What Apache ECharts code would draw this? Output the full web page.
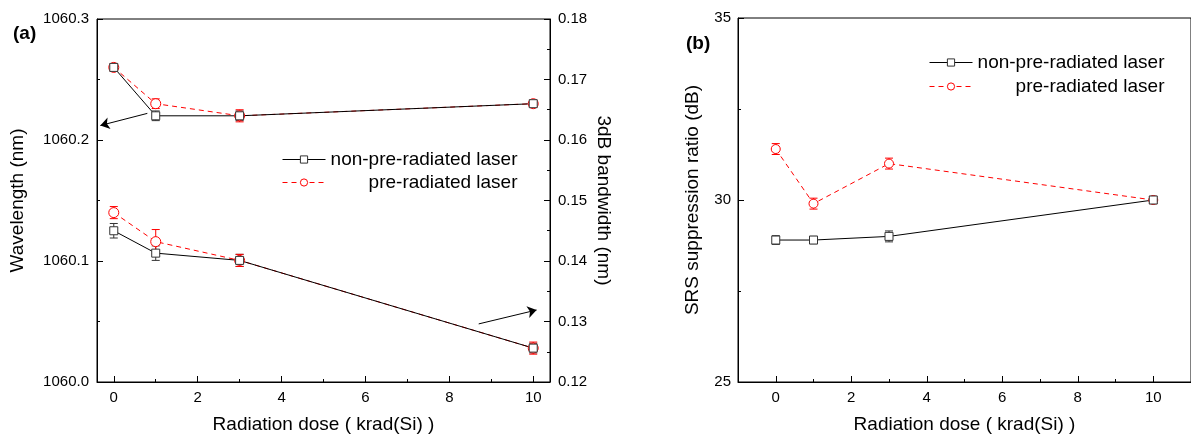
<!DOCTYPE html>
<html>
<head>
<meta charset="utf-8">
<script src="https://cdn.jsdelivr.net/npm/echarts@6/dist/echarts.min.js"></script>
<style>
  html, body { margin: 0; padding: 0; background: #fff; }
  #chart { width: 1191px; height: 439px; }
</style>
</head>
<body>
<div id="chart"></div>
<script>
  // radiation dose (krad(Si))
  var doses = [0, 1, 3, 10];
  var xMajorTicks = [0, 2, 4, 6, 8, 10];
  var xMinorTicks = [1, 3, 5, 7, 9];

  // panel (a): centre wavelength, left axis (nm)
  var wlNon = [1060.26, 1060.22, 1060.22, 1060.23];
  var wlNonErr = [0.003, 0.004, 0.004, 0.002];
  var wlPre = [1060.26, 1060.23, 1060.22, 1060.23];
  var wlPreErr = [0.003, 0.004, 0.005, 0.003];

  // panel (a): 3dB bandwidth, right axis (nm)
  var bwNon = [0.1450, 0.1413, 0.1401, 0.1256];
  var bwNonErr = [0.0012, 0.0012, 0.0010, 0.0008];
  var bwPre = [0.1480, 0.1432, 0.1401, 0.1256];
  var bwPreErr = [0.0010, 0.0020, 0.0010, 0.0010];

  // panel (b): SRS suppression ratio (dB)
  var srsNon = [28.9, 28.9, 29.0, 30.0];
  var srsNonErr = [0.12, 0.1, 0.15, 0.1];
  var srsPre = [31.4, 29.9, 31.0, 30.0];
  var srsPreErr = [0.15, 0.15, 0.15, 0.1];

  // annotation arrows, in data units [start, end]
  var arrowWl = [[0.8, 1060.222], [-0.32, 1060.212]];
  var arrowBw = [[8.7, 0.1296], [10.08, 0.1319]];

  var FONT = "'Liberation Sans', Arial, sans-serif";
  var BLACK = '#000';
  var RED = '#ff0000';

  function pairs(xs, ys, es) {
    return xs.map(function (x, i) {
      return es ? [x, ys[i], es[i]] : [x, ys[i]];
    });
  }

  function errRender(color) {
    return function (params, api) {
      var x = api.value(0), y = api.value(1), e = api.value(2);
      var hi = api.coord([x, y + e]);
      var lo = api.coord([x, y - e]);
      var w = 4;
      var st = { stroke: color, lineWidth: 1 };
      return {
        type: 'group',
        children: [
          { type: 'line', shape: { x1: hi[0], y1: hi[1], x2: lo[0], y2: lo[1] }, style: st },
          { type: 'line', shape: { x1: hi[0] - w, y1: hi[1], x2: hi[0] + w, y2: hi[1] }, style: st },
          { type: 'line', shape: { x1: lo[0] - w, y1: lo[1], x2: lo[0] + w, y2: lo[1] }, style: st }
        ]
      };
    };
  }

  function errSeries(name, xi, yi, data, color) {
    return {
      name: name, type: 'custom', xAxisIndex: xi, yAxisIndex: yi, z: 1,
      renderItem: errRender(color), data: data, silent: true,
      encode: { x: 0, y: 1 }
    };
  }

  function lineSeries(name, xi, yi, data, pre, size) {
    return {
      name: name, type: 'line', xAxisIndex: xi, yAxisIndex: yi, z: 3,
      data: data,
      symbol: pre ? 'circle' : 'rect',
      symbolSize: size,
      lineStyle: { color: pre ? RED : BLACK, width: 1, type: pre ? [5, 4] : 'solid' },
      itemStyle: { color: '#fff', borderColor: pre ? RED : '#333', borderWidth: 1 },
      emphasis: { disabled: true }
    };
  }

  function arrowLine(a) {
    return {
      silent: true,
      symbol: ['none', 'arrow'],
      symbolSize: 9,
      label: { show: false },
      itemStyle: { color: BLACK },
      lineStyle: { color: BLACK, width: 1, type: 'solid' },
      emphasis: { disabled: true },
      data: [[{ coord: a[0] }, { coord: a[1] }]]
    };
  }

  var tickLabel = { color: BLACK, fontSize: 15, fontFamily: FONT };
  var nameStyle = { color: BLACK, fontSize: 19, fontFamily: FONT };
  var axisLine = { show: true, onZero: false, lineStyle: { color: BLACK, width: 1 } };

  function xMajor(grid, min, max) {
    return {
      type: 'value', gridIndex: grid, position: 'bottom', min: min, max: max,
      name: 'Radiation dose ( krad(Si) )', nameLocation: 'middle', nameGap: 33,
      nameTextStyle: nameStyle,
      axisLine: axisLine,
      axisTick: { show: true, inside: true, length: 6, customValues: xMajorTicks, lineStyle: { color: BLACK } },
      axisLabel: Object.assign({ margin: 8, customValues: xMajorTicks }, tickLabel),
      splitLine: { show: false }
    };
  }

  function xMinor(grid, min, max) {
    return {
      type: 'value', gridIndex: grid, position: 'bottom', min: min, max: max,
      axisLine: { show: false },
      axisTick: { show: true, inside: true, length: 3, customValues: xMinorTicks, lineStyle: { color: BLACK } },
      axisLabel: { show: false },
      splitLine: { show: false }
    };
  }

  function legendFor(left, top, textW, gap) {
    return {
      orient: 'vertical', left: left, top: top,
      itemWidth: 43, itemHeight: 9, itemGap: gap,
      data: ['non-pre-radiated laser', 'pre-radiated laser'],
      formatter: function (n) { return '{r|' + n + '}'; },
      lineStyle: { width: 1 },
      itemStyle: { borderWidth: 1 },
      textStyle: {
        color: BLACK, fontSize: 19, fontFamily: FONT,
        rich: { r: { width: textW, align: 'right', fontSize: 19, lineHeight: 19, fontFamily: FONT, color: BLACK } }
      },
      selectedMode: false
    };
  }

  var option = {
    animation: false,
    backgroundColor: '#fff',
    textStyle: { fontFamily: FONT },
    title: [
      { text: '(a)', left: 8, top: 19, textStyle: { fontSize: 19, fontWeight: 'bold', color: BLACK, fontFamily: FONT } },
      { text: '(b)', left: 681, top: 29, textStyle: { fontSize: 19, fontWeight: 'bold', color: BLACK, fontFamily: FONT } }
    ],
    legend: [legendFor(277, 145, 187, 4), legendFor(924, 48, 187, 5)],
    grid: [
      { left: 97, top: 19, width: 453, height: 366, show: true, borderColor: BLACK, borderWidth: 1, backgroundColor: 'transparent' },
      { left: 738, top: 18, width: 456, height: 368, show: true, borderColor: BLACK, borderWidth: 1, backgroundColor: 'transparent' }
    ],
    xAxis: [
      xMajor(0, -0.4, 10.4),
      xMinor(0, -0.4, 10.4),
      xMajor(1, -1, 11),
      xMinor(1, -1, 11)
    ],
    yAxis: [
      {
        type: 'value', gridIndex: 0, position: 'left', min: 1060.0, max: 1060.3, interval: 0.1,
        name: 'Wavelength (nm)', nameLocation: 'middle', nameGap: 70, nameTextStyle: nameStyle,
        axisLine: axisLine,
        axisTick: { show: true, inside: true, length: 6, lineStyle: { color: BLACK } },
        minorTick: { show: true, splitNumber: 2, length: 3, lineStyle: { color: BLACK } },
        axisLabel: Object.assign({ margin: 8, formatter: function (v) { return v.toFixed(1); } }, tickLabel),
        splitLine: { show: false }
      },
      {
        type: 'value', gridIndex: 0, position: 'right', min: 0.12, max: 0.18, interval: 0.01,
        name: '3dB bandwidth (nm)', nameLocation: 'middle', nameGap: 44, nameRotate: -90, nameTextStyle: nameStyle,
        axisLine: axisLine,
        axisTick: { show: true, inside: true, length: 6, lineStyle: { color: BLACK } },
        minorTick: { show: true, splitNumber: 2, length: 3, lineStyle: { color: BLACK } },
        axisLabel: Object.assign({ margin: 8, formatter: function (v) { return v.toFixed(2); } }, tickLabel),
        splitLine: { show: false }
      },
      {
        type: 'value', gridIndex: 1, position: 'left', min: 25, max: 35, interval: 5,
        name: 'SRS suppression ratio (dB)', nameLocation: 'middle', nameGap: 36, nameTextStyle: nameStyle,
        axisLine: axisLine,
        axisTick: { show: true, inside: true, length: 6, lineStyle: { color: BLACK } },
        minorTick: { show: true, splitNumber: 2, length: 3, lineStyle: { color: BLACK } },
        axisLabel: Object.assign({ margin: 7 }, tickLabel),
        splitLine: { show: false }
      }
    ],
    series: [
      errSeries('e1', 0, 0, pairs(doses, wlNon, wlNonErr), '#333'),
      errSeries('e2', 0, 0, pairs(doses, wlPre, wlPreErr), RED),
      errSeries('e3', 0, 1, pairs(doses, bwNon, bwNonErr), '#333'),
      errSeries('e4', 0, 1, pairs(doses, bwPre, bwPreErr), RED),
      errSeries('e5', 2, 2, pairs(doses, srsNon, srsNonErr), '#333'),
      errSeries('e6', 2, 2, pairs(doses, srsPre, srsPreErr), RED),
      lineSeries('pre-radiated laser', 0, 0, pairs(doses, wlPre), true, 10),
      Object.assign(lineSeries('non-pre-radiated laser', 0, 0, pairs(doses, wlNon), false, 8), { markLine: arrowLine(arrowWl) }),
      lineSeries('pre-radiated laser', 0, 1, pairs(doses, bwPre), true, 10),
      Object.assign(lineSeries('non-pre-radiated laser', 0, 1, pairs(doses, bwNon), false, 8), { markLine: arrowLine(arrowBw) }),
      lineSeries('pre-radiated laser', 2, 2, pairs(doses, srsPre), true, 9),
      lineSeries('non-pre-radiated laser', 2, 2, pairs(doses, srsNon), false, 8)
    ]
  };

  var chart = echarts.init(document.getElementById('chart'));
  chart.setOption(option);
</script>
</body>
</html>
